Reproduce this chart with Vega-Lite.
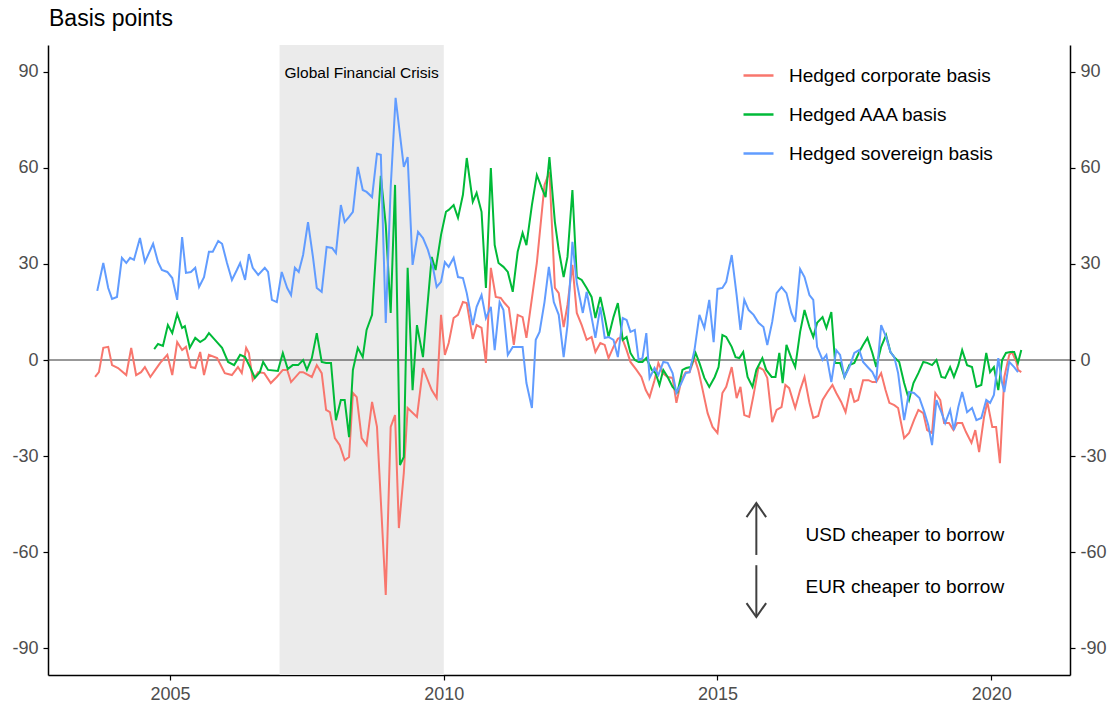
{
  "$schema": "https://vega.github.io/schema/vega-lite/v6.json",
  "width": 1022,
  "height": 630,
  "autosize": "none",
  "padding": {"left": 48, "top": 45, "right": 42, "bottom": 31},
  "background": "white",
  "config": {
    "view": {"stroke": null},
    "font": "Liberation Sans",
    "axis": {"grid": false, "domainColor": "black", "domainWidth": 1.5, "tickColor": "black", "tickWidth": 1.2, "tickSize": 5, "labelFontSize": 18, "labelColor": "#4d4d4d", "labelFont": "Liberation Sans", "labelPadding": 5, "title": null, "labelExpr": "datum.value"}
  },
  "resolve": {"axis": {"y": "independent"}},
  "layer": [
    {
      "data": {"values": [{"start": 2007.0, "end": 2010.0}]},
      "mark": {"type": "rect", "color": "#ebebeb"},
      "encoding": {
        "x": {"field": "start", "type": "quantitative", "scale": {"domain": [2002.77, 2021.44], "nice": false, "zero": false}, "axis": {"values": [2005, 2010, 2015, 2020], "orient": "bottom"}},
        "x2": {"field": "end"}
      }
    },
    {
      "data": {"values": [{"v": 0}]},
      "mark": {"type": "rule", "color": "#333333", "strokeWidth": 1},
      "encoding": {
        "y": {"field": "v", "type": "quantitative", "scale": {"domain": [-98.4, 98.4], "nice": false}, "axis": {"orient": "left", "values": [-90, -60, -30, 0, 30, 60, 90]}}
      }
    },
    {
      "data": {"values": [{"t": 2002.77, "v": 104.5, "label": "Basis points"}]},
      "mark": {"type": "text", "fontSize": 23, "color": "black", "align": "left", "baseline": "alphabetic", "font": "Liberation Sans", "clip": false, "dx": 1, "dy": 1},
      "encoding": {
        "x": {"field": "t", "type": "quantitative", "axis": {"values": [2005, 2010, 2015, 2020], "orient": "bottom"}},
        "y": {"field": "v", "type": "quantitative", "axis": null},
        "text": {"field": "label"}
      }
    },
    {
      "data": {"values": [
        {"s":"Hedged corporate basis","t":2003.63,"v":-5.3},{"s":"Hedged corporate basis","t":2003.70,"v":-3.8},{"s":"Hedged corporate basis","t":2003.78,"v":3.8},{"s":"Hedged corporate basis","t":2003.87,"v":4.1},{"s":"Hedged corporate basis","t":2003.94,"v":-1.6},{"s":"Hedged corporate basis","t":2004.05,"v":-2.5},{"s":"Hedged corporate basis","t":2004.20,"v":-4.7},{"s":"Hedged corporate basis","t":2004.29,"v":3.8},{"s":"Hedged corporate basis","t":2004.38,"v":-4.7},{"s":"Hedged corporate basis","t":2004.47,"v":-3.8},{"s":"Hedged corporate basis","t":2004.54,"v":-2.2},{"s":"Hedged corporate basis","t":2004.64,"v":-5.3},{"s":"Hedged corporate basis","t":2004.73,"v":-3.1},{"s":"Hedged corporate basis","t":2004.82,"v":-0.9},{"s":"Hedged corporate basis","t":2004.95,"v":1.6},{"s":"Hedged corporate basis","t":2005.04,"v":-4.7},{"s":"Hedged corporate basis","t":2005.13,"v":5.6},{"s":"Hedged corporate basis","t":2005.22,"v":3.1},{"s":"Hedged corporate basis","t":2005.29,"v":4.1},{"s":"Hedged corporate basis","t":2005.38,"v":-2.2},{"s":"Hedged corporate basis","t":2005.46,"v":-2.5},{"s":"Hedged corporate basis","t":2005.55,"v":2.5},{"s":"Hedged corporate basis","t":2005.62,"v":-4.7},{"s":"Hedged corporate basis","t":2005.71,"v":1.6},{"s":"Hedged corporate basis","t":2005.86,"v":0.6},{"s":"Hedged corporate basis","t":2006.00,"v":-4.1},{"s":"Hedged corporate basis","t":2006.13,"v":-4.7},{"s":"Hedged corporate basis","t":2006.24,"v":-2.2},{"s":"Hedged corporate basis","t":2006.31,"v":-4.1},{"s":"Hedged corporate basis","t":2006.39,"v":3.8},{"s":"Hedged corporate basis","t":2006.44,"v":2.2},{"s":"Hedged corporate basis","t":2006.51,"v":-6.3},{"s":"Hedged corporate basis","t":2006.61,"v":-3.8},{"s":"Hedged corporate basis","t":2006.72,"v":-4.1},{"s":"Hedged corporate basis","t":2006.84,"v":-7.2},{"s":"Hedged corporate basis","t":2006.95,"v":-5.3},{"s":"Hedged corporate basis","t":2007.06,"v":-3.1},{"s":"Hedged corporate basis","t":2007.14,"v":-3.1},{"s":"Hedged corporate basis","t":2007.21,"v":-6.9},{"s":"Hedged corporate basis","t":2007.37,"v":-3.8},{"s":"Hedged corporate basis","t":2007.43,"v":-3.8},{"s":"Hedged corporate basis","t":2007.59,"v":-5.3},{"s":"Hedged corporate basis","t":2007.68,"v":-1.6},{"s":"Hedged corporate basis","t":2007.77,"v":-4.1},{"s":"Hedged corporate basis","t":2007.85,"v":-15.6},{"s":"Hedged corporate basis","t":2007.92,"v":-16.3},{"s":"Hedged corporate basis","t":2008.01,"v":-24.4},{"s":"Hedged corporate basis","t":2008.10,"v":-26.6},{"s":"Hedged corporate basis","t":2008.19,"v":-31.3},{"s":"Hedged corporate basis","t":2008.27,"v":-30.3},{"s":"Hedged corporate basis","t":2008.34,"v":-10.3},{"s":"Hedged corporate basis","t":2008.41,"v":-11.6},{"s":"Hedged corporate basis","t":2008.50,"v":-24.4},{"s":"Hedged corporate basis","t":2008.59,"v":-26.6},{"s":"Hedged corporate basis","t":2008.69,"v":-13.1},{"s":"Hedged corporate basis","t":2008.78,"v":-20.9},{"s":"Hedged corporate basis","t":2008.94,"v":-73.4},{"s":"Hedged corporate basis","t":2009.03,"v":-20.9},{"s":"Hedged corporate basis","t":2009.11,"v":-17.2},{"s":"Hedged corporate basis","t":2009.18,"v":-52.5},{"s":"Hedged corporate basis","t":2009.27,"v":-35.3},{"s":"Hedged corporate basis","t":2009.34,"v":-15.0},{"s":"Hedged corporate basis","t":2009.51,"v":-17.8},{"s":"Hedged corporate basis","t":2009.62,"v":-2.5},{"s":"Hedged corporate basis","t":2009.78,"v":-9.4},{"s":"Hedged corporate basis","t":2009.87,"v":-11.9},{"s":"Hedged corporate basis","t":2009.95,"v":14.1},{"s":"Hedged corporate basis","t":2010.02,"v":1.6},{"s":"Hedged corporate basis","t":2010.09,"v":5.3},{"s":"Hedged corporate basis","t":2010.18,"v":13.1},{"s":"Hedged corporate basis","t":2010.26,"v":14.1},{"s":"Hedged corporate basis","t":2010.35,"v":18.1},{"s":"Hedged corporate basis","t":2010.42,"v":17.8},{"s":"Hedged corporate basis","t":2010.53,"v":6.6},{"s":"Hedged corporate basis","t":2010.60,"v":10.9},{"s":"Hedged corporate basis","t":2010.69,"v":10.0},{"s":"Hedged corporate basis","t":2010.77,"v":-0.9},{"s":"Hedged corporate basis","t":2010.86,"v":28.8},{"s":"Hedged corporate basis","t":2010.95,"v":19.7},{"s":"Hedged corporate basis","t":2011.04,"v":19.4},{"s":"Hedged corporate basis","t":2011.11,"v":17.8},{"s":"Hedged corporate basis","t":2011.19,"v":16.3},{"s":"Hedged corporate basis","t":2011.28,"v":4.7},{"s":"Hedged corporate basis","t":2011.35,"v":14.1},{"s":"Hedged corporate basis","t":2011.44,"v":13.4},{"s":"Hedged corporate basis","t":2011.51,"v":6.9},{"s":"Hedged corporate basis","t":2011.70,"v":30.3},{"s":"Hedged corporate basis","t":2011.84,"v":54.7},{"s":"Hedged corporate basis","t":2011.93,"v":58.8},{"s":"Hedged corporate basis","t":2012.03,"v":22.5},{"s":"Hedged corporate basis","t":2012.10,"v":20.9},{"s":"Hedged corporate basis","t":2012.19,"v":10.3},{"s":"Hedged corporate basis","t":2012.26,"v":17.2},{"s":"Hedged corporate basis","t":2012.35,"v":29.7},{"s":"Hedged corporate basis","t":2012.43,"v":14.7},{"s":"Hedged corporate basis","t":2012.52,"v":10.9},{"s":"Hedged corporate basis","t":2012.61,"v":6.3},{"s":"Hedged corporate basis","t":2012.70,"v":7.2},{"s":"Hedged corporate basis","t":2012.77,"v":2.5},{"s":"Hedged corporate basis","t":2012.86,"v":5.3},{"s":"Hedged corporate basis","t":2012.94,"v":4.7},{"s":"Hedged corporate basis","t":2013.01,"v":0.6},{"s":"Hedged corporate basis","t":2013.10,"v":4.1},{"s":"Hedged corporate basis","t":2013.18,"v":6.6},{"s":"Hedged corporate basis","t":2013.25,"v":7.2},{"s":"Hedged corporate basis","t":2013.34,"v":3.1},{"s":"Hedged corporate basis","t":2013.41,"v":-0.6},{"s":"Hedged corporate basis","t":2013.52,"v":-3.1},{"s":"Hedged corporate basis","t":2013.61,"v":-5.3},{"s":"Hedged corporate basis","t":2013.69,"v":-9.4},{"s":"Hedged corporate basis","t":2013.76,"v":-11.6},{"s":"Hedged corporate basis","t":2013.85,"v":-6.3},{"s":"Hedged corporate basis","t":2013.92,"v":-0.9},{"s":"Hedged corporate basis","t":2014.00,"v":-4.1},{"s":"Hedged corporate basis","t":2014.09,"v":-5.3},{"s":"Hedged corporate basis","t":2014.18,"v":-5.6},{"s":"Hedged corporate basis","t":2014.25,"v":-13.4},{"s":"Hedged corporate basis","t":2014.34,"v":-6.3},{"s":"Hedged corporate basis","t":2014.42,"v":-3.8},{"s":"Hedged corporate basis","t":2014.49,"v":-3.8},{"s":"Hedged corporate basis","t":2014.58,"v":0.6},{"s":"Hedged corporate basis","t":2014.65,"v":-3.1},{"s":"Hedged corporate basis","t":2014.73,"v":-9.4},{"s":"Hedged corporate basis","t":2014.82,"v":-16.6},{"s":"Hedged corporate basis","t":2014.91,"v":-20.9},{"s":"Hedged corporate basis","t":2015.00,"v":-22.8},{"s":"Hedged corporate basis","t":2015.09,"v":-10.3},{"s":"Hedged corporate basis","t":2015.16,"v":-8.4},{"s":"Hedged corporate basis","t":2015.26,"v":-2.2},{"s":"Hedged corporate basis","t":2015.35,"v":-11.9},{"s":"Hedged corporate basis","t":2015.42,"v":-8.4},{"s":"Hedged corporate basis","t":2015.49,"v":-17.2},{"s":"Hedged corporate basis","t":2015.58,"v":-17.8},{"s":"Hedged corporate basis","t":2015.66,"v":-10.9},{"s":"Hedged corporate basis","t":2015.75,"v":-2.2},{"s":"Hedged corporate basis","t":2015.84,"v":-3.1},{"s":"Hedged corporate basis","t":2015.91,"v":-5.6},{"s":"Hedged corporate basis","t":2016.00,"v":-19.4},{"s":"Hedged corporate basis","t":2016.08,"v":-15.6},{"s":"Hedged corporate basis","t":2016.17,"v":-14.7},{"s":"Hedged corporate basis","t":2016.24,"v":-7.8},{"s":"Hedged corporate basis","t":2016.31,"v":-8.8},{"s":"Hedged corporate basis","t":2016.42,"v":-15.0},{"s":"Hedged corporate basis","t":2016.51,"v":-9.4},{"s":"Hedged corporate basis","t":2016.59,"v":-5.3},{"s":"Hedged corporate basis","t":2016.68,"v":-13.4},{"s":"Hedged corporate basis","t":2016.75,"v":-18.1},{"s":"Hedged corporate basis","t":2016.84,"v":-17.5},{"s":"Hedged corporate basis","t":2016.92,"v":-12.5},{"s":"Hedged corporate basis","t":2017.01,"v":-10.0},{"s":"Hedged corporate basis","t":2017.10,"v":-7.8},{"s":"Hedged corporate basis","t":2017.17,"v":-10.3},{"s":"Hedged corporate basis","t":2017.26,"v":-13.1},{"s":"Hedged corporate basis","t":2017.34,"v":-16.3},{"s":"Hedged corporate basis","t":2017.43,"v":-8.8},{"s":"Hedged corporate basis","t":2017.50,"v":-13.1},{"s":"Hedged corporate basis","t":2017.57,"v":-12.5},{"s":"Hedged corporate basis","t":2017.66,"v":-6.3},{"s":"Hedged corporate basis","t":2017.76,"v":-6.3},{"s":"Hedged corporate basis","t":2017.83,"v":-6.9},{"s":"Hedged corporate basis","t":2017.90,"v":-6.9},{"s":"Hedged corporate basis","t":2017.99,"v":-4.1},{"s":"Hedged corporate basis","t":2018.07,"v":-9.4},{"s":"Hedged corporate basis","t":2018.14,"v":-13.4},{"s":"Hedged corporate basis","t":2018.23,"v":-14.1},{"s":"Hedged corporate basis","t":2018.30,"v":-15.0},{"s":"Hedged corporate basis","t":2018.41,"v":-24.4},{"s":"Hedged corporate basis","t":2018.50,"v":-22.8},{"s":"Hedged corporate basis","t":2018.59,"v":-18.8},{"s":"Hedged corporate basis","t":2018.67,"v":-15.6},{"s":"Hedged corporate basis","t":2018.76,"v":-16.6},{"s":"Hedged corporate basis","t":2018.83,"v":-21.9},{"s":"Hedged corporate basis","t":2018.92,"v":-22.8},{"s":"Hedged corporate basis","t":2018.98,"v":-10.3},{"s":"Hedged corporate basis","t":2019.07,"v":-12.5},{"s":"Hedged corporate basis","t":2019.14,"v":-19.7},{"s":"Hedged corporate basis","t":2019.23,"v":-19.7},{"s":"Hedged corporate basis","t":2019.31,"v":-21.9},{"s":"Hedged corporate basis","t":2019.38,"v":-19.7},{"s":"Hedged corporate basis","t":2019.47,"v":-19.7},{"s":"Hedged corporate basis","t":2019.54,"v":-22.5},{"s":"Hedged corporate basis","t":2019.64,"v":-25.9},{"s":"Hedged corporate basis","t":2019.71,"v":-21.9},{"s":"Hedged corporate basis","t":2019.78,"v":-28.8},{"s":"Hedged corporate basis","t":2019.87,"v":-17.8},{"s":"Hedged corporate basis","t":2019.93,"v":-13.1},{"s":"Hedged corporate basis","t":2020.02,"v":-20.9},{"s":"Hedged corporate basis","t":2020.09,"v":-20.9},{"s":"Hedged corporate basis","t":2020.16,"v":-32.2},{"s":"Hedged corporate basis","t":2020.24,"v":-5.3},{"s":"Hedged corporate basis","t":2020.33,"v":1.6},{"s":"Hedged corporate basis","t":2020.38,"v":2.5},{"s":"Hedged corporate basis","t":2020.46,"v":-0.6},{"s":"Hedged corporate basis","t":2020.49,"v":-3.1},{"s":"Hedged corporate basis","t":2020.55,"v":-3.8},
        {"s":"Hedged AAA basis","t":2004.71,"v":3.4},{"s":"Hedged AAA basis","t":2004.78,"v":5.0},{"s":"Hedged AAA basis","t":2004.87,"v":4.4},{"s":"Hedged AAA basis","t":2004.96,"v":10.9},{"s":"Hedged AAA basis","t":2005.04,"v":8.4},{"s":"Hedged AAA basis","t":2005.13,"v":14.4},{"s":"Hedged AAA basis","t":2005.22,"v":10.0},{"s":"Hedged AAA basis","t":2005.27,"v":10.6},{"s":"Hedged AAA basis","t":2005.36,"v":3.8},{"s":"Hedged AAA basis","t":2005.46,"v":6.9},{"s":"Hedged AAA basis","t":2005.55,"v":5.6},{"s":"Hedged AAA basis","t":2005.64,"v":6.6},{"s":"Hedged AAA basis","t":2005.71,"v":8.4},{"s":"Hedged AAA basis","t":2005.82,"v":6.3},{"s":"Hedged AAA basis","t":2005.95,"v":3.8},{"s":"Hedged AAA basis","t":2006.06,"v":-0.6},{"s":"Hedged AAA basis","t":2006.17,"v":-1.6},{"s":"Hedged AAA basis","t":2006.28,"v":1.6},{"s":"Hedged AAA basis","t":2006.37,"v":0.9},{"s":"Hedged AAA basis","t":2006.46,"v":-2.2},{"s":"Hedged AAA basis","t":2006.55,"v":-5.6},{"s":"Hedged AAA basis","t":2006.64,"v":-3.8},{"s":"Hedged AAA basis","t":2006.70,"v":-0.6},{"s":"Hedged AAA basis","t":2006.79,"v":-3.1},{"s":"Hedged AAA basis","t":2006.97,"v":-3.4},{"s":"Hedged AAA basis","t":2007.06,"v":2.2},{"s":"Hedged AAA basis","t":2007.15,"v":-2.8},{"s":"Hedged AAA basis","t":2007.24,"v":-1.6},{"s":"Hedged AAA basis","t":2007.34,"v":-1.6},{"s":"Hedged AAA basis","t":2007.43,"v":0.0},{"s":"Hedged AAA basis","t":2007.50,"v":-3.1},{"s":"Hedged AAA basis","t":2007.59,"v":0.6},{"s":"Hedged AAA basis","t":2007.68,"v":8.4},{"s":"Hedged AAA basis","t":2007.77,"v":-0.6},{"s":"Hedged AAA basis","t":2007.85,"v":-0.9},{"s":"Hedged AAA basis","t":2007.94,"v":-0.9},{"s":"Hedged AAA basis","t":2008.03,"v":-18.8},{"s":"Hedged AAA basis","t":2008.12,"v":-12.5},{"s":"Hedged AAA basis","t":2008.19,"v":-12.5},{"s":"Hedged AAA basis","t":2008.27,"v":-24.1},{"s":"Hedged AAA basis","t":2008.34,"v":-3.1},{"s":"Hedged AAA basis","t":2008.43,"v":3.8},{"s":"Hedged AAA basis","t":2008.52,"v":0.9},{"s":"Hedged AAA basis","t":2008.59,"v":9.4},{"s":"Hedged AAA basis","t":2008.69,"v":14.1},{"s":"Hedged AAA basis","t":2008.85,"v":57.5},{"s":"Hedged AAA basis","t":2008.94,"v":42.2},{"s":"Hedged AAA basis","t":2009.03,"v":14.7},{"s":"Hedged AAA basis","t":2009.11,"v":54.7},{"s":"Hedged AAA basis","t":2009.20,"v":-32.8},{"s":"Hedged AAA basis","t":2009.27,"v":-30.3},{"s":"Hedged AAA basis","t":2009.34,"v":28.8},{"s":"Hedged AAA basis","t":2009.43,"v":-9.4},{"s":"Hedged AAA basis","t":2009.51,"v":10.9},{"s":"Hedged AAA basis","t":2009.62,"v":0.9},{"s":"Hedged AAA basis","t":2009.69,"v":14.7},{"s":"Hedged AAA basis","t":2009.78,"v":32.2},{"s":"Hedged AAA basis","t":2009.85,"v":28.1},{"s":"Hedged AAA basis","t":2009.95,"v":39.1},{"s":"Hedged AAA basis","t":2010.04,"v":46.3},{"s":"Hedged AAA basis","t":2010.09,"v":46.9},{"s":"Hedged AAA basis","t":2010.18,"v":48.4},{"s":"Hedged AAA basis","t":2010.26,"v":44.4},{"s":"Hedged AAA basis","t":2010.35,"v":51.6},{"s":"Hedged AAA basis","t":2010.42,"v":63.1},{"s":"Hedged AAA basis","t":2010.53,"v":49.4},{"s":"Hedged AAA basis","t":2010.60,"v":52.2},{"s":"Hedged AAA basis","t":2010.69,"v":46.3},{"s":"Hedged AAA basis","t":2010.77,"v":22.5},{"s":"Hedged AAA basis","t":2010.86,"v":60.0},{"s":"Hedged AAA basis","t":2010.93,"v":35.9},{"s":"Hedged AAA basis","t":2011.00,"v":30.3},{"s":"Hedged AAA basis","t":2011.09,"v":29.1},{"s":"Hedged AAA basis","t":2011.17,"v":27.5},{"s":"Hedged AAA basis","t":2011.26,"v":21.3},{"s":"Hedged AAA basis","t":2011.35,"v":33.8},{"s":"Hedged AAA basis","t":2011.44,"v":39.7},{"s":"Hedged AAA basis","t":2011.51,"v":35.9},{"s":"Hedged AAA basis","t":2011.61,"v":48.4},{"s":"Hedged AAA basis","t":2011.70,"v":57.8},{"s":"Hedged AAA basis","t":2011.79,"v":53.8},{"s":"Hedged AAA basis","t":2011.86,"v":50.9},{"s":"Hedged AAA basis","t":2011.93,"v":63.4},{"s":"Hedged AAA basis","t":2012.03,"v":43.1},{"s":"Hedged AAA basis","t":2012.10,"v":34.4},{"s":"Hedged AAA basis","t":2012.19,"v":25.9},{"s":"Hedged AAA basis","t":2012.26,"v":32.2},{"s":"Hedged AAA basis","t":2012.35,"v":53.1},{"s":"Hedged AAA basis","t":2012.43,"v":25.9},{"s":"Hedged AAA basis","t":2012.52,"v":25.0},{"s":"Hedged AAA basis","t":2012.61,"v":22.5},{"s":"Hedged AAA basis","t":2012.70,"v":19.7},{"s":"Hedged AAA basis","t":2012.77,"v":13.1},{"s":"Hedged AAA basis","t":2012.86,"v":19.7},{"s":"Hedged AAA basis","t":2012.94,"v":13.4},{"s":"Hedged AAA basis","t":2013.01,"v":7.2},{"s":"Hedged AAA basis","t":2013.10,"v":13.4},{"s":"Hedged AAA basis","t":2013.18,"v":17.8},{"s":"Hedged AAA basis","t":2013.27,"v":6.3},{"s":"Hedged AAA basis","t":2013.34,"v":7.2},{"s":"Hedged AAA basis","t":2013.41,"v":2.2},{"s":"Hedged AAA basis","t":2013.49,"v":0.0},{"s":"Hedged AAA basis","t":2013.56,"v":-0.6},{"s":"Hedged AAA basis","t":2013.63,"v":-0.6},{"s":"Hedged AAA basis","t":2013.70,"v":0.6},{"s":"Hedged AAA basis","t":2013.80,"v":-3.1},{"s":"Hedged AAA basis","t":2013.87,"v":-4.1},{"s":"Hedged AAA basis","t":2013.94,"v":-7.8},{"s":"Hedged AAA basis","t":2014.01,"v":-3.1},{"s":"Hedged AAA basis","t":2014.09,"v":-5.3},{"s":"Hedged AAA basis","t":2014.18,"v":-8.4},{"s":"Hedged AAA basis","t":2014.27,"v":-10.0},{"s":"Hedged AAA basis","t":2014.36,"v":-3.1},{"s":"Hedged AAA basis","t":2014.43,"v":-2.5},{"s":"Hedged AAA basis","t":2014.51,"v":-2.2},{"s":"Hedged AAA basis","t":2014.60,"v":2.2},{"s":"Hedged AAA basis","t":2014.67,"v":-0.9},{"s":"Hedged AAA basis","t":2014.76,"v":-5.6},{"s":"Hedged AAA basis","t":2014.85,"v":-8.4},{"s":"Hedged AAA basis","t":2014.95,"v":-5.3},{"s":"Hedged AAA basis","t":2015.02,"v":-2.2},{"s":"Hedged AAA basis","t":2015.09,"v":7.8},{"s":"Hedged AAA basis","t":2015.16,"v":7.2},{"s":"Hedged AAA basis","t":2015.26,"v":4.1},{"s":"Hedged AAA basis","t":2015.33,"v":0.9},{"s":"Hedged AAA basis","t":2015.40,"v":0.6},{"s":"Hedged AAA basis","t":2015.47,"v":2.5},{"s":"Hedged AAA basis","t":2015.55,"v":-5.3},{"s":"Hedged AAA basis","t":2015.64,"v":-8.4},{"s":"Hedged AAA basis","t":2015.71,"v":-3.1},{"s":"Hedged AAA basis","t":2015.82,"v":0.6},{"s":"Hedged AAA basis","t":2015.89,"v":-3.1},{"s":"Hedged AAA basis","t":2015.99,"v":-5.3},{"s":"Hedged AAA basis","t":2016.06,"v":-5.3},{"s":"Hedged AAA basis","t":2016.13,"v":2.2},{"s":"Hedged AAA basis","t":2016.19,"v":-7.2},{"s":"Hedged AAA basis","t":2016.26,"v":4.7},{"s":"Hedged AAA basis","t":2016.35,"v":0.6},{"s":"Hedged AAA basis","t":2016.42,"v":-2.2},{"s":"Hedged AAA basis","t":2016.51,"v":8.8},{"s":"Hedged AAA basis","t":2016.59,"v":15.6},{"s":"Hedged AAA basis","t":2016.68,"v":10.3},{"s":"Hedged AAA basis","t":2016.75,"v":7.2},{"s":"Hedged AAA basis","t":2016.82,"v":11.6},{"s":"Hedged AAA basis","t":2016.92,"v":13.4},{"s":"Hedged AAA basis","t":2016.99,"v":10.0},{"s":"Hedged AAA basis","t":2017.08,"v":15.0},{"s":"Hedged AAA basis","t":2017.15,"v":-0.9},{"s":"Hedged AAA basis","t":2017.24,"v":-0.9},{"s":"Hedged AAA basis","t":2017.32,"v":-5.3},{"s":"Hedged AAA basis","t":2017.41,"v":-1.6},{"s":"Hedged AAA basis","t":2017.50,"v":-0.9},{"s":"Hedged AAA basis","t":2017.59,"v":2.5},{"s":"Hedged AAA basis","t":2017.66,"v":4.7},{"s":"Hedged AAA basis","t":2017.74,"v":6.9},{"s":"Hedged AAA basis","t":2017.83,"v":2.2},{"s":"Hedged AAA basis","t":2017.90,"v":-2.2},{"s":"Hedged AAA basis","t":2017.99,"v":4.1},{"s":"Hedged AAA basis","t":2018.08,"v":7.8},{"s":"Hedged AAA basis","t":2018.16,"v":2.5},{"s":"Hedged AAA basis","t":2018.23,"v":0.9},{"s":"Hedged AAA basis","t":2018.32,"v":-0.6},{"s":"Hedged AAA basis","t":2018.41,"v":-7.2},{"s":"Hedged AAA basis","t":2018.50,"v":-12.5},{"s":"Hedged AAA basis","t":2018.58,"v":-7.2},{"s":"Hedged AAA basis","t":2018.67,"v":-4.1},{"s":"Hedged AAA basis","t":2018.76,"v":-0.6},{"s":"Hedged AAA basis","t":2018.83,"v":-0.9},{"s":"Hedged AAA basis","t":2018.92,"v":-1.6},{"s":"Hedged AAA basis","t":2019.00,"v":0.0},{"s":"Hedged AAA basis","t":2019.09,"v":-5.3},{"s":"Hedged AAA basis","t":2019.16,"v":-5.6},{"s":"Hedged AAA basis","t":2019.25,"v":-2.2},{"s":"Hedged AAA basis","t":2019.32,"v":-5.3},{"s":"Hedged AAA basis","t":2019.40,"v":-1.6},{"s":"Hedged AAA basis","t":2019.47,"v":3.1},{"s":"Hedged AAA basis","t":2019.56,"v":-1.6},{"s":"Hedged AAA basis","t":2019.65,"v":-2.2},{"s":"Hedged AAA basis","t":2019.73,"v":-8.4},{"s":"Hedged AAA basis","t":2019.82,"v":-7.8},{"s":"Hedged AAA basis","t":2019.91,"v":2.2},{"s":"Hedged AAA basis","t":2019.98,"v":-3.8},{"s":"Hedged AAA basis","t":2020.05,"v":-2.2},{"s":"Hedged AAA basis","t":2020.13,"v":-9.4},{"s":"Hedged AAA basis","t":2020.20,"v":0.0},{"s":"Hedged AAA basis","t":2020.27,"v":2.2},{"s":"Hedged AAA basis","t":2020.35,"v":2.5},{"s":"Hedged AAA basis","t":2020.42,"v":2.5},{"s":"Hedged AAA basis","t":2020.49,"v":-0.9},{"s":"Hedged AAA basis","t":2020.55,"v":3.1},
        {"s":"Hedged sovereign basis","t":2003.67,"v":21.6},{"s":"Hedged sovereign basis","t":2003.78,"v":30.3},{"s":"Hedged sovereign basis","t":2003.87,"v":22.5},{"s":"Hedged sovereign basis","t":2003.94,"v":19.1},{"s":"Hedged sovereign basis","t":2004.03,"v":19.7},{"s":"Hedged sovereign basis","t":2004.12,"v":31.9},{"s":"Hedged sovereign basis","t":2004.20,"v":30.3},{"s":"Hedged sovereign basis","t":2004.27,"v":31.9},{"s":"Hedged sovereign basis","t":2004.34,"v":31.3},{"s":"Hedged sovereign basis","t":2004.45,"v":38.1},{"s":"Hedged sovereign basis","t":2004.54,"v":30.6},{"s":"Hedged sovereign basis","t":2004.69,"v":36.3},{"s":"Hedged sovereign basis","t":2004.78,"v":30.6},{"s":"Hedged sovereign basis","t":2004.85,"v":28.1},{"s":"Hedged sovereign basis","t":2004.95,"v":27.5},{"s":"Hedged sovereign basis","t":2005.04,"v":25.6},{"s":"Hedged sovereign basis","t":2005.13,"v":18.8},{"s":"Hedged sovereign basis","t":2005.22,"v":38.4},{"s":"Hedged sovereign basis","t":2005.29,"v":27.2},{"s":"Hedged sovereign basis","t":2005.38,"v":27.5},{"s":"Hedged sovereign basis","t":2005.46,"v":28.8},{"s":"Hedged sovereign basis","t":2005.53,"v":22.8},{"s":"Hedged sovereign basis","t":2005.62,"v":25.9},{"s":"Hedged sovereign basis","t":2005.71,"v":33.8},{"s":"Hedged sovereign basis","t":2005.78,"v":33.8},{"s":"Hedged sovereign basis","t":2005.88,"v":37.2},{"s":"Hedged sovereign basis","t":2005.95,"v":36.3},{"s":"Hedged sovereign basis","t":2006.04,"v":30.3},{"s":"Hedged sovereign basis","t":2006.13,"v":25.0},{"s":"Hedged sovereign basis","t":2006.22,"v":28.1},{"s":"Hedged sovereign basis","t":2006.28,"v":30.3},{"s":"Hedged sovereign basis","t":2006.37,"v":25.0},{"s":"Hedged sovereign basis","t":2006.44,"v":33.1},{"s":"Hedged sovereign basis","t":2006.51,"v":28.8},{"s":"Hedged sovereign basis","t":2006.61,"v":26.6},{"s":"Hedged sovereign basis","t":2006.73,"v":28.8},{"s":"Hedged sovereign basis","t":2006.79,"v":27.5},{"s":"Hedged sovereign basis","t":2006.86,"v":18.8},{"s":"Hedged sovereign basis","t":2006.95,"v":18.1},{"s":"Hedged sovereign basis","t":2007.04,"v":27.5},{"s":"Hedged sovereign basis","t":2007.14,"v":22.5},{"s":"Hedged sovereign basis","t":2007.21,"v":20.3},{"s":"Hedged sovereign basis","t":2007.28,"v":28.8},{"s":"Hedged sovereign basis","t":2007.35,"v":27.5},{"s":"Hedged sovereign basis","t":2007.43,"v":32.8},{"s":"Hedged sovereign basis","t":2007.52,"v":43.1},{"s":"Hedged sovereign basis","t":2007.61,"v":32.2},{"s":"Hedged sovereign basis","t":2007.68,"v":22.5},{"s":"Hedged sovereign basis","t":2007.77,"v":21.3},{"s":"Hedged sovereign basis","t":2007.86,"v":35.3},{"s":"Hedged sovereign basis","t":2007.96,"v":35.0},{"s":"Hedged sovereign basis","t":2008.03,"v":33.4},{"s":"Hedged sovereign basis","t":2008.12,"v":48.4},{"s":"Hedged sovereign basis","t":2008.19,"v":43.1},{"s":"Hedged sovereign basis","t":2008.27,"v":44.7},{"s":"Hedged sovereign basis","t":2008.34,"v":46.3},{"s":"Hedged sovereign basis","t":2008.43,"v":60.3},{"s":"Hedged sovereign basis","t":2008.52,"v":53.1},{"s":"Hedged sovereign basis","t":2008.59,"v":52.5},{"s":"Hedged sovereign basis","t":2008.69,"v":50.9},{"s":"Hedged sovereign basis","t":2008.78,"v":64.4},{"s":"Hedged sovereign basis","t":2008.85,"v":64.1},{"s":"Hedged sovereign basis","t":2008.94,"v":11.6},{"s":"Hedged sovereign basis","t":2009.03,"v":53.8},{"s":"Hedged sovereign basis","t":2009.12,"v":81.9},{"s":"Hedged sovereign basis","t":2009.20,"v":70.3},{"s":"Hedged sovereign basis","t":2009.27,"v":60.3},{"s":"Hedged sovereign basis","t":2009.34,"v":63.4},{"s":"Hedged sovereign basis","t":2009.43,"v":29.7},{"s":"Hedged sovereign basis","t":2009.53,"v":40.0},{"s":"Hedged sovereign basis","t":2009.62,"v":38.1},{"s":"Hedged sovereign basis","t":2009.71,"v":34.4},{"s":"Hedged sovereign basis","t":2009.80,"v":29.1},{"s":"Hedged sovereign basis","t":2009.87,"v":22.8},{"s":"Hedged sovereign basis","t":2009.95,"v":24.4},{"s":"Hedged sovereign basis","t":2010.02,"v":30.6},{"s":"Hedged sovereign basis","t":2010.09,"v":29.1},{"s":"Hedged sovereign basis","t":2010.18,"v":31.9},{"s":"Hedged sovereign basis","t":2010.26,"v":25.9},{"s":"Hedged sovereign basis","t":2010.35,"v":25.6},{"s":"Hedged sovereign basis","t":2010.42,"v":20.9},{"s":"Hedged sovereign basis","t":2010.53,"v":10.9},{"s":"Hedged sovereign basis","t":2010.60,"v":16.6},{"s":"Hedged sovereign basis","t":2010.69,"v":20.3},{"s":"Hedged sovereign basis","t":2010.77,"v":13.1},{"s":"Hedged sovereign basis","t":2010.86,"v":16.6},{"s":"Hedged sovereign basis","t":2010.93,"v":3.1},{"s":"Hedged sovereign basis","t":2011.02,"v":18.1},{"s":"Hedged sovereign basis","t":2011.09,"v":15.6},{"s":"Hedged sovereign basis","t":2011.17,"v":1.6},{"s":"Hedged sovereign basis","t":2011.26,"v":4.1},{"s":"Hedged sovereign basis","t":2011.44,"v":4.1},{"s":"Hedged sovereign basis","t":2011.51,"v":-7.2},{"s":"Hedged sovereign basis","t":2011.61,"v":-15.0},{"s":"Hedged sovereign basis","t":2011.68,"v":6.3},{"s":"Hedged sovereign basis","t":2011.75,"v":8.8},{"s":"Hedged sovereign basis","t":2011.84,"v":18.1},{"s":"Hedged sovereign basis","t":2011.92,"v":29.1},{"s":"Hedged sovereign basis","t":2012.01,"v":18.1},{"s":"Hedged sovereign basis","t":2012.10,"v":14.1},{"s":"Hedged sovereign basis","t":2012.19,"v":0.9},{"s":"Hedged sovereign basis","t":2012.26,"v":10.9},{"s":"Hedged sovereign basis","t":2012.35,"v":36.9},{"s":"Hedged sovereign basis","t":2012.43,"v":24.1},{"s":"Hedged sovereign basis","t":2012.54,"v":14.7},{"s":"Hedged sovereign basis","t":2012.61,"v":21.3},{"s":"Hedged sovereign basis","t":2012.70,"v":13.4},{"s":"Hedged sovereign basis","t":2012.77,"v":6.9},{"s":"Hedged sovereign basis","t":2012.86,"v":16.6},{"s":"Hedged sovereign basis","t":2012.94,"v":6.9},{"s":"Hedged sovereign basis","t":2013.01,"v":7.2},{"s":"Hedged sovereign basis","t":2013.10,"v":6.3},{"s":"Hedged sovereign basis","t":2013.18,"v":0.9},{"s":"Hedged sovereign basis","t":2013.27,"v":13.1},{"s":"Hedged sovereign basis","t":2013.34,"v":12.5},{"s":"Hedged sovereign basis","t":2013.41,"v":8.8},{"s":"Hedged sovereign basis","t":2013.49,"v":9.4},{"s":"Hedged sovereign basis","t":2013.56,"v":0.0},{"s":"Hedged sovereign basis","t":2013.63,"v":0.6},{"s":"Hedged sovereign basis","t":2013.70,"v":8.4},{"s":"Hedged sovereign basis","t":2013.76,"v":-5.6},{"s":"Hedged sovereign basis","t":2013.85,"v":-2.5},{"s":"Hedged sovereign basis","t":2013.92,"v":-4.7},{"s":"Hedged sovereign basis","t":2014.01,"v":-0.6},{"s":"Hedged sovereign basis","t":2014.09,"v":-0.9},{"s":"Hedged sovereign basis","t":2014.18,"v":-4.1},{"s":"Hedged sovereign basis","t":2014.25,"v":-10.3},{"s":"Hedged sovereign basis","t":2014.34,"v":-7.2},{"s":"Hedged sovereign basis","t":2014.42,"v":-4.1},{"s":"Hedged sovereign basis","t":2014.49,"v":-3.8},{"s":"Hedged sovereign basis","t":2014.58,"v":3.1},{"s":"Hedged sovereign basis","t":2014.67,"v":14.1},{"s":"Hedged sovereign basis","t":2014.76,"v":10.0},{"s":"Hedged sovereign basis","t":2014.85,"v":18.8},{"s":"Hedged sovereign basis","t":2014.93,"v":5.6},{"s":"Hedged sovereign basis","t":2015.00,"v":22.2},{"s":"Hedged sovereign basis","t":2015.09,"v":22.5},{"s":"Hedged sovereign basis","t":2015.16,"v":24.4},{"s":"Hedged sovereign basis","t":2015.26,"v":32.8},{"s":"Hedged sovereign basis","t":2015.35,"v":20.3},{"s":"Hedged sovereign basis","t":2015.42,"v":9.4},{"s":"Hedged sovereign basis","t":2015.49,"v":18.8},{"s":"Hedged sovereign basis","t":2015.57,"v":15.6},{"s":"Hedged sovereign basis","t":2015.66,"v":14.1},{"s":"Hedged sovereign basis","t":2015.75,"v":11.6},{"s":"Hedged sovereign basis","t":2015.84,"v":10.3},{"s":"Hedged sovereign basis","t":2015.91,"v":4.7},{"s":"Hedged sovereign basis","t":2016.00,"v":11.9},{"s":"Hedged sovereign basis","t":2016.08,"v":20.9},{"s":"Hedged sovereign basis","t":2016.17,"v":22.8},{"s":"Hedged sovereign basis","t":2016.26,"v":20.9},{"s":"Hedged sovereign basis","t":2016.35,"v":14.7},{"s":"Hedged sovereign basis","t":2016.42,"v":11.9},{"s":"Hedged sovereign basis","t":2016.51,"v":28.4},{"s":"Hedged sovereign basis","t":2016.59,"v":25.9},{"s":"Hedged sovereign basis","t":2016.68,"v":20.3},{"s":"Hedged sovereign basis","t":2016.75,"v":18.8},{"s":"Hedged sovereign basis","t":2016.82,"v":4.1},{"s":"Hedged sovereign basis","t":2016.92,"v":0.0},{"s":"Hedged sovereign basis","t":2016.99,"v":1.6},{"s":"Hedged sovereign basis","t":2017.08,"v":-6.9},{"s":"Hedged sovereign basis","t":2017.17,"v":3.1},{"s":"Hedged sovereign basis","t":2017.24,"v":1.6},{"s":"Hedged sovereign basis","t":2017.32,"v":-5.3},{"s":"Hedged sovereign basis","t":2017.41,"v":-2.2},{"s":"Hedged sovereign basis","t":2017.50,"v":2.2},{"s":"Hedged sovereign basis","t":2017.59,"v":3.1},{"s":"Hedged sovereign basis","t":2017.66,"v":-0.6},{"s":"Hedged sovereign basis","t":2017.76,"v":-2.5},{"s":"Hedged sovereign basis","t":2017.83,"v":-3.8},{"s":"Hedged sovereign basis","t":2017.90,"v":-6.3},{"s":"Hedged sovereign basis","t":2017.99,"v":10.9},{"s":"Hedged sovereign basis","t":2018.08,"v":7.2},{"s":"Hedged sovereign basis","t":2018.16,"v":2.5},{"s":"Hedged sovereign basis","t":2018.23,"v":0.9},{"s":"Hedged sovereign basis","t":2018.30,"v":-4.1},{"s":"Hedged sovereign basis","t":2018.41,"v":-18.8},{"s":"Hedged sovereign basis","t":2018.50,"v":-10.0},{"s":"Hedged sovereign basis","t":2018.59,"v":-10.3},{"s":"Hedged sovereign basis","t":2018.69,"v":-11.9},{"s":"Hedged sovereign basis","t":2018.78,"v":-16.3},{"s":"Hedged sovereign basis","t":2018.85,"v":-20.3},{"s":"Hedged sovereign basis","t":2018.92,"v":-26.6},{"s":"Hedged sovereign basis","t":2019.00,"v":-12.5},{"s":"Hedged sovereign basis","t":2019.09,"v":-16.3},{"s":"Hedged sovereign basis","t":2019.16,"v":-19.7},{"s":"Hedged sovereign basis","t":2019.25,"v":-15.6},{"s":"Hedged sovereign basis","t":2019.32,"v":-21.9},{"s":"Hedged sovereign basis","t":2019.40,"v":-14.7},{"s":"Hedged sovereign basis","t":2019.47,"v":-10.0},{"s":"Hedged sovereign basis","t":2019.56,"v":-16.3},{"s":"Hedged sovereign basis","t":2019.65,"v":-15.0},{"s":"Hedged sovereign basis","t":2019.73,"v":-18.8},{"s":"Hedged sovereign basis","t":2019.82,"v":-18.1},{"s":"Hedged sovereign basis","t":2019.91,"v":-12.5},{"s":"Hedged sovereign basis","t":2019.98,"v":-13.4},{"s":"Hedged sovereign basis","t":2020.05,"v":-10.9},{"s":"Hedged sovereign basis","t":2020.13,"v":0.6},{"s":"Hedged sovereign basis","t":2020.20,"v":-7.2},{"s":"Hedged sovereign basis","t":2020.24,"v":-10.0},{"s":"Hedged sovereign basis","t":2020.33,"v":-0.6},{"s":"Hedged sovereign basis","t":2020.42,"v":-2.2},{"s":"Hedged sovereign basis","t":2020.49,"v":-3.8}
      ]},
      "mark": {"type": "line", "strokeWidth": 2},
      "encoding": {
        "x": {"field": "t", "type": "quantitative", "axis": {"values": [2005, 2010, 2015, 2020], "orient": "bottom"}},
        "y": {"field": "v", "type": "quantitative", "axis": null},
        "color": {"field": "s", "type": "nominal",
          "scale": {"domain": ["Hedged corporate basis", "Hedged AAA basis", "Hedged sovereign basis"], "range": ["#F8766D", "#00BA38", "#619CFF"]},
          "legend": {"title": null, "orient": "none", "legendX": 694, "legendY": 14, "padding": 0, "symbolType": "stroke", "symbolSize": 900, "symbolStrokeWidth": 2.5, "labelFontSize": 19, "labelColor": "black", "labelFont": "Liberation Sans", "labelOffset": 14, "labelLimit": 400, "rowPadding": 12}
        },
        "order": {"field": "t", "type": "quantitative"}
      }
    },
    {
      "data": {"values": [{"t": 2008.5, "v": 89.7, "label": "Global Financial Crisis"}]},
      "mark": {"type": "text", "fontSize": 15.5, "color": "black", "align": "center", "baseline": "middle", "font": "Liberation Sans"},
      "encoding": {
        "x": {"field": "t", "type": "quantitative", "axis": {"values": [2005, 2010, 2015, 2020], "orient": "bottom"}},
        "y": {"field": "v", "type": "quantitative", "axis": null},
        "text": {"field": "label"}
      }
    },
    {
      "data": {"values": [{"t": 2015.71, "a": -60.9, "b": -44.9}, {"t": 2015.71, "a": -64.1, "b": -80.1}]},
      "mark": {"type": "rule", "color": "#404040", "strokeWidth": 2},
      "encoding": {
        "x": {"field": "t", "type": "quantitative", "axis": {"values": [2005, 2010, 2015, 2020], "orient": "bottom"}},
        "y": {"field": "a", "type": "quantitative", "axis": null},
        "y2": {"field": "b"}
      }
    },
    {
      "data": {"values": [{"t": 2015.71, "v": -44.7}]},
      "mark": {"type": "point", "shape": "M-0.7,1L0,0L0.7,1", "size": 784, "filled": false, "stroke": "#404040", "strokeWidth": 2, "opacity": 1},
      "encoding": {
        "x": {"field": "t", "type": "quantitative", "axis": {"values": [2005, 2010, 2015, 2020], "orient": "bottom"}},
        "y": {"field": "v", "type": "quantitative", "axis": null}
      }
    },
    {
      "data": {"values": [{"t": 2015.71, "v": -80.3}]},
      "mark": {"type": "point", "shape": "M-0.7,-1L0,0L0.7,-1", "size": 784, "filled": false, "stroke": "#404040", "strokeWidth": 2, "opacity": 1},
      "encoding": {
        "x": {"field": "t", "type": "quantitative", "axis": {"values": [2005, 2010, 2015, 2020], "orient": "bottom"}},
        "y": {"field": "v", "type": "quantitative", "axis": null}
      }
    },
    {
      "data": {"values": [{"t": 2016.61, "v": -54.7, "label": "USD cheaper to borrow"}, {"t": 2016.61, "v": -70.9, "label": "EUR cheaper to borrow"}]},
      "mark": {"type": "text", "fontSize": 19, "color": "black", "align": "left", "baseline": "middle", "font": "Liberation Sans"},
      "encoding": {
        "x": {"field": "t", "type": "quantitative", "axis": {"values": [2005, 2010, 2015, 2020], "orient": "bottom"}},
        "y": {"field": "v", "type": "quantitative", "axis": {"orient": "right", "values": [-90, -60, -30, 0, 30, 60, 90]}},
        "text": {"field": "label"}
      }
    }
  ]
}
